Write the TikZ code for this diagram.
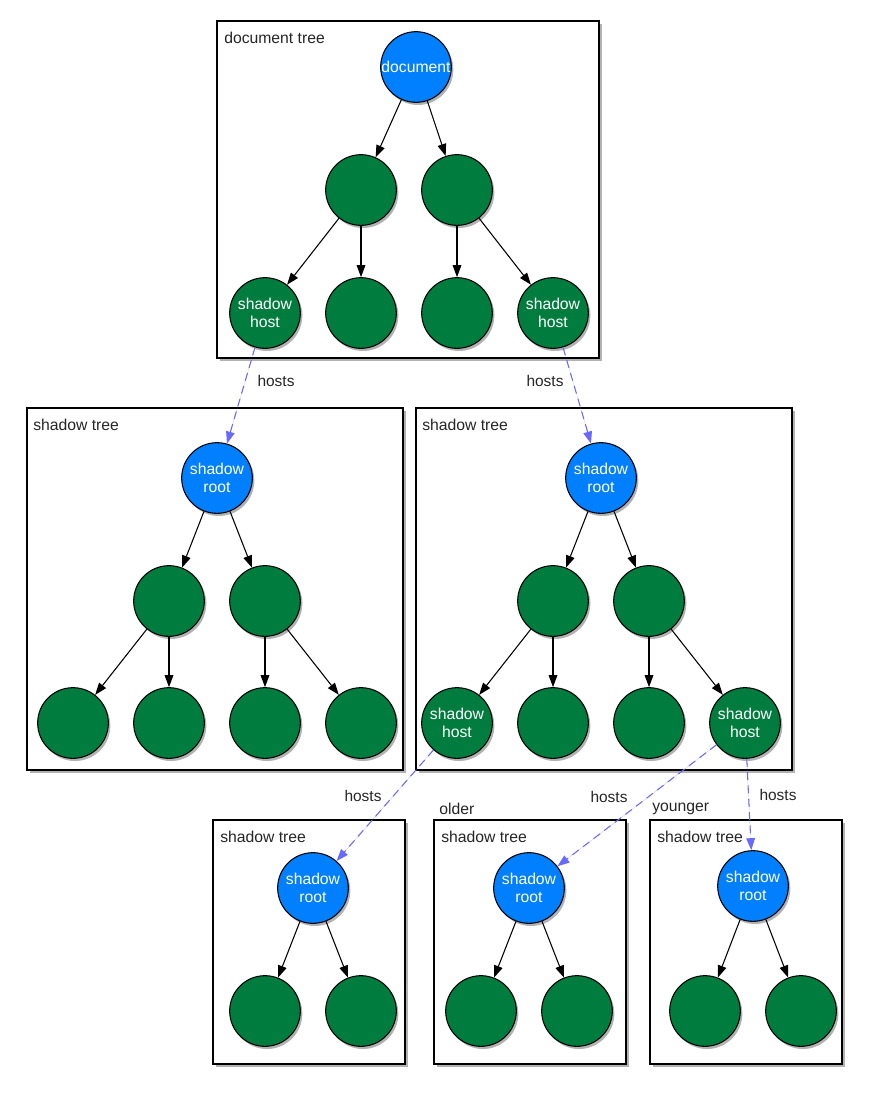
\documentclass[tikz,border=0pt]{standalone}
\usepackage{fontspec}
\setmainfont{Liberation Sans}
\usetikzlibrary{shadows,arrows.meta}
\definecolor{nodeblue}{RGB}{0,128,255}
\definecolor{nodegreen}{RGB}{0,125,62}
\definecolor{hostline}{RGB}{105,105,255}
\begin{document}
\begin{tikzpicture}[x=0.75pt,y=-0.75pt,
  treebox/.style={draw=black, line width=1.1pt, fill=white,
    drop shadow={shadow xshift=2pt, shadow yshift=-2.5pt, opacity=0.3, fill=black}},
  el/.style={circle, draw=black, line width=0.8pt, minimum size=53pt, inner sep=0pt,
    fill=nodegreen, text=white, align=center, font=\fontsize{11.8}{13.6}\selectfont,
    drop shadow={shadow xshift=1.5pt, shadow yshift=-2pt, opacity=0.3, fill=black}},
  rootel/.style={el, fill=nodeblue},
  edge/.style={-{Triangle[length=9pt,width=6.5pt]}, line width=0.8pt, draw=black},
  hostedge/.style={-{Triangle[length=9pt,width=6.5pt]}, draw=hostline, fill=hostline,
    dash pattern=on 6pt off 4pt, line width=0.8pt},
  title/.style={anchor=west, inner sep=0pt, text=black!85, font=\fontsize{11.8}{14}\selectfont},
  hostlabel/.style={inner sep=0pt, text=black!85, font=\fontsize{11.6}{14}\selectfont},
]
\useasboundingbox (0,0) rectangle (869,1097);

% ---------- boxes ----------
\draw[treebox] (217,21) rectangle (599,358);
\draw[treebox] (27,408) rectangle (403,770);
\draw[treebox] (416,408) rectangle (792,770);
\draw[treebox] (213,820) rectangle (405,1064);
\draw[treebox] (434,820) rectangle (626,1064);
\draw[treebox] (650,820) rectangle (842,1064);

% ---------- titles ----------
\node[title] (t0) at (224,38) {document tree};
\node[title] (t1) at (33,425) {shadow tree};
\node[title] (t2) at (422,425) {shadow tree};
\node[title] (t3) at (220,837) {shadow tree};
\node[title] (t4) at (441,837) {shadow tree};
\node[title] (t5) at (657,837) {shadow tree};
\node[title] (older) at (439,809) {older};
\node[title] (younger) at (652,809) {younger};

% ---------- document tree ----------
\node[rootel] (d) at (416,67) {document};
\node[el] (d1) at (361,190) {};
\node[el] (d2) at (457,190) {};
\node[el] (d11) at (265,313) {shadow\\host};
\node[el] (d12) at (361,313) {};
\node[el] (d21) at (457,313) {};
\node[el] (d22) at (553,313) {shadow\\host};
\draw[edge] (d) -- (d1);
\draw[edge] (d) -- (d2);
\draw[edge] (d1) -- (d11);
\draw[edge] (d1) -- (d12);
\draw[edge] (d2) -- (d21);
\draw[edge] (d2) -- (d22);

% ---------- left shadow tree ----------
\node[rootel] (a) at (217,478) {shadow\\root};
\node[el] (a1) at (169,601) {};
\node[el] (a2) at (265,601) {};
\node[el] (a11) at (73,723) {};
\node[el] (a12) at (169,723) {};
\node[el] (a21) at (265,723) {};
\node[el] (a22) at (361,723) {};
\draw[edge] (a) -- (a1);
\draw[edge] (a) -- (a2);
\draw[edge] (a1) -- (a11);
\draw[edge] (a1) -- (a12);
\draw[edge] (a2) -- (a21);
\draw[edge] (a2) -- (a22);

% ---------- right shadow tree ----------
\node[rootel] (b) at (601,478) {shadow\\root};
\node[el] (b1) at (553,601) {};
\node[el] (b2) at (649,601) {};
\node[el] (b11) at (457,723) {shadow\\host};
\node[el] (b12) at (553,723) {};
\node[el] (b21) at (649,723) {};
\node[el] (b22) at (745,723) {shadow\\host};
\draw[edge] (b) -- (b1);
\draw[edge] (b) -- (b2);
\draw[edge] (b1) -- (b11);
\draw[edge] (b1) -- (b12);
\draw[edge] (b2) -- (b21);
\draw[edge] (b2) -- (b22);

% ---------- bottom shadow trees ----------
\node[rootel] (c) at (313,888) {shadow\\root};
\node[el] (c1) at (265,1011) {};
\node[el] (c2) at (361,1011) {};
\draw[edge] (c) -- (c1);
\draw[edge] (c) -- (c2);

\node[rootel] (e) at (529,888) {shadow\\root};
\node[el] (e1) at (481,1011) {};
\node[el] (e2) at (577,1011) {};
\draw[edge] (e) -- (e1);
\draw[edge] (e) -- (e2);

\node[rootel] (f) at (753,886) {shadow\\root};
\node[el] (f1) at (705,1011) {};
\node[el] (f2) at (801,1011) {};
\draw[edge] (f) -- (f1);
\draw[edge] (f) -- (f2);

% ---------- hosts connectors ----------
\draw[hostedge] (d11) -- (a);
\draw[hostedge] (d22) -- (b);
\draw[hostedge] (b11) -- (c);
\draw[hostedge] (b22) -- (e);
\draw[hostedge] (b22) -- (f);

\node[hostlabel] (h1) at (276,381) {hosts};
\node[hostlabel] (h2) at (545,381) {hosts};
\node[hostlabel] (h3) at (363,796) {hosts};
\node[hostlabel] (h4) at (609,797) {hosts};
\node[hostlabel] (h5) at (778,795) {hosts};
\end{tikzpicture}
\end{document}
